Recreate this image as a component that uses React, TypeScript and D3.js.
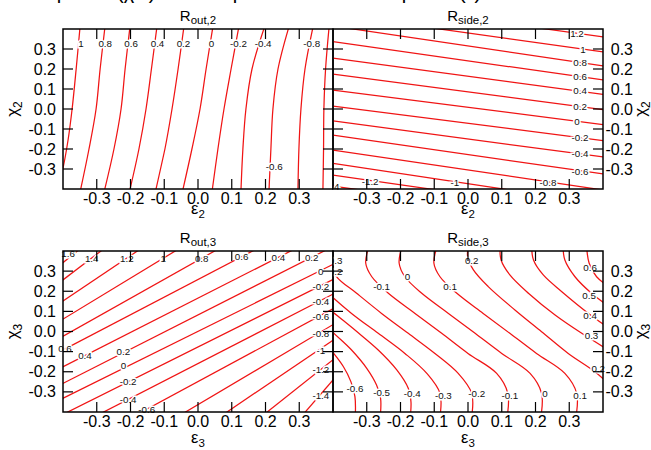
import React from "react";
import * as d3 from "d3";

type Pt = [number, number];
interface Contour { level: number; points: Pt[]; }
interface LevelLabel { level: number; at: Pt; }

const WIDTH = 651;
const HEIGHT = 450;
const RED = "#f01414";
const FONT = "'Liberation Sans', Arial, Helvetica, sans-serif";

// both axes of every panel span the same range
const AXIS_DOMAIN: [number, number] = [-0.4, 0.4];
const EPS_TICKS = [-0.3, -0.2, -0.1, 0.0, 0.1, 0.2, 0.3];
const CHI_TICKS = [-0.3, -0.2, -0.1, 0.0, 0.1, 0.2, 0.3];

// ---- R_out,2 : contour points as (epsilon, chi) ----
const rOut2Contours: Contour[] = [
  { level: 1.0, points: [[-0.349, 0.42], [-0.361, 0.2], [-0.373, 0.0], [-0.385, -0.155], [-0.4, -0.295], [-0.41, -0.36]] },
  { level: 0.8, points: [[-0.275, 0.42], [-0.29, 0.2], [-0.302, 0.0], [-0.323, -0.2], [-0.35, -0.42]] },
  { level: 0.6, points: [[-0.201, 0.42], [-0.216, 0.2], [-0.228, 0.0], [-0.249, -0.2], [-0.279, -0.42]] },
  { level: 0.4, points: [[-0.121, 0.42], [-0.138, 0.2], [-0.154, 0.0], [-0.175, -0.2], [-0.204, -0.42]] },
  { level: 0.2, points: [[-0.041, 0.42], [-0.059, 0.2], [-0.077, 0.0], [-0.098, -0.2], [-0.127, -0.42]] },
  { level: 0.0, points: [[0.045, 0.42], [0.024, 0.2], [0.006, 0.0], [-0.018, -0.2], [-0.047, -0.42]] },
  { level: -0.2, points: [[0.122, 0.42], [0.098, 0.2], [0.077, 0.0], [0.059, -0.2], [0.041, -0.42]] },
  { level: -0.4, points: [[0.199, 0.42], [0.16, 0.2], [0.142, 0.0], [0.133, -0.2], [0.127, -0.42]] },
  { level: -0.6, points: [[0.271, 0.42], [0.237, 0.2], [0.222, 0.0], [0.216, -0.2], [0.21, -0.42]] },
  { level: -0.8, points: [[0.342, 0.42], [0.317, 0.2], [0.305, 0.0], [0.299, -0.2], [0.296, -0.42]] },
  { level: -1.0, points: [[0.389, 0.42], [0.378, 0.2], [0.373, 0.0], [0.372, -0.2], [0.37, -0.42]] },
];
const rOut2Labels: LevelLabel[] = [
  { level: 1, at: [-0.347, 0.33] },
  { level: 0.8, at: [-0.275, 0.33] },
  { level: 0.6, at: [-0.198, 0.33] },
  { level: 0.4, at: [-0.12, 0.33] },
  { level: 0.2, at: [-0.043, 0.33] },
  { level: 0, at: [0.04, 0.33] },
  { level: -0.2, at: [0.12, 0.33] },
  { level: -0.4, at: [0.193, 0.33] },
  { level: -0.8, at: [0.337, 0.33] },
  { level: -0.6, at: [0.226, -0.285] },
];

// ---- R_side,2 : straight contours, chi at epsilon = -0.4 and +0.4 ----
const rSide2Contours: Contour[] = [
  { level: 1.2, points: [[-0.4, 0.55], [0.4, 0.36]] },
  { level: 1.0, points: [[-0.4, 0.475], [0.4, 0.285]] },
  { level: 0.8, points: [[-0.4, 0.415], [0.4, 0.215]] },
  { level: 0.6, points: [[-0.4, 0.337], [0.4, 0.145]] },
  { level: 0.4, points: [[-0.4, 0.254], [0.4, 0.073]] },
  { level: 0.2, points: [[-0.4, 0.175], [0.4, -0.003]] },
  { level: 0.0, points: [[-0.4, 0.095], [0.4, -0.078]] },
  { level: -0.2, points: [[-0.4, 0.015], [0.4, -0.158]] },
  { level: -0.4, points: [[-0.4, -0.059], [0.4, -0.24]] },
  { level: -0.6, points: [[-0.4, -0.13], [0.4, -0.325]] },
  { level: -0.8, points: [[-0.4, -0.205], [0.4, -0.405]] },
  { level: -1.0, points: [[-0.4, -0.272], [0.4, -0.475]] },
  { level: -1.2, points: [[-0.4, -0.33], [0.4, -0.525]] },
  { level: -1.4, points: [[-0.4, -0.385], [0.4, -0.58]] },
];
const rSide2Labels: LevelLabel[] = [
  { level: 1.2, at: [0.323, 0.38] },
  { level: 1, at: [0.341, 0.3] },
  { level: 0.8, at: [0.332, 0.235] },
  { level: 0.6, at: [0.332, 0.165] },
  { level: 0.4, at: [0.332, 0.095] },
  { level: 0.2, at: [0.332, 0.015] },
  { level: 0, at: [0.323, -0.06] },
  { level: -0.2, at: [0.332, -0.14] },
  { level: -0.4, at: [0.332, -0.22] },
  { level: -0.6, at: [0.332, -0.31] },
  { level: -1.2, at: [-0.29, -0.36] },
  { level: -1, at: [-0.039, -0.365] },
  { level: -0.8, at: [0.237, -0.365] },
  { level: -1.4, at: [-0.406, -0.385] },
];

// ---- R_out,3 ----
const rOut3Contours: Contour[] = [
  { level: 1.6, points: [[-0.409, 0.33], [-0.35, 0.41]] },
  { level: 1.4, points: [[-0.424, 0.226], [-0.264, 0.43]] },
  { level: 1.2, points: [[-0.424, 0.124], [-0.153, 0.43]] },
  { level: 1.0, points: [[-0.424, 0.037], [-0.038, 0.43]] },
  { level: 0.8, points: [[-0.424, -0.046], [0.081, 0.43]] },
  { level: 0.6, points: [[-0.424, -0.113], [0.196, 0.43]] },
  { level: 0.4, points: [[-0.424, -0.196], [0.31, 0.43]] },
  { level: 0.2, points: [[-0.424, -0.278], [0.409, 0.43]] },
  { level: 0.0, points: [[-0.424, -0.352], [0.421, 0.351]] },
  { level: -0.2, points: [[-0.424, -0.432], [0.421, 0.276]] },
  { level: -0.4, points: [[-0.305, -0.422], [0.421, 0.204]] },
  { level: -0.6, points: [[-0.187, -0.418], [0.421, 0.132]] },
  { level: -0.8, points: [[-0.053, -0.416], [0.421, 0.055]] },
  { level: -1.0, points: [[0.071, -0.417], [0.421, -0.019]] },
  { level: -1.2, points: [[0.193, -0.416], [0.421, -0.112]] },
  { level: -1.4, points: [[0.308, -0.419], [0.421, -0.2]] },
];
const rOut3Labels: LevelLabel[] = [
  { level: 1.6, at: [-0.385, 0.388] },
  { level: 1.4, at: [-0.315, 0.364] },
  { level: 1.2, at: [-0.211, 0.364] },
  { level: 1, at: [-0.103, 0.364] },
  { level: 0.8, at: [0.011, 0.364] },
  { level: 0.6, at: [0.129, 0.372] },
  { level: 0.4, at: [0.238, 0.369] },
  { level: 0.2, at: [0.337, 0.369] },
  { level: 0, at: [0.364, 0.297] },
  { level: -0.2, at: [0.364, 0.223] },
  { level: -0.4, at: [0.364, 0.148] },
  { level: -0.6, at: [0.364, 0.074] },
  { level: -0.8, at: [0.364, -0.009] },
  { level: -1, at: [0.364, -0.092] },
  { level: -1.2, at: [0.364, -0.191] },
  { level: -1.4, at: [0.364, -0.316] },
  { level: 0.6, at: [-0.394, -0.083] },
  { level: 0.4, at: [-0.335, -0.117] },
  { level: 0.2, at: [-0.221, -0.1] },
  { level: 0, at: [-0.221, -0.17] },
  { level: -0.2, at: [-0.207, -0.249] },
  { level: -0.4, at: [-0.207, -0.337] },
  { level: -0.6, at: [-0.152, -0.387] },
];

// ---- R_side,3 : S-shaped contours ----
const rSide3Contours: Contour[] = [
  { level: -0.6, points: [[-0.444, -0.017], [-0.402, -0.1], [-0.369, -0.175], [-0.347, -0.249], [-0.335, -0.324], [-0.334, -0.423]] },
  { level: -0.5, points: [[-0.444, 0.074], [-0.402, -0.001], [-0.345, -0.092], [-0.3, -0.183], [-0.271, -0.266], [-0.259, -0.332], [-0.26, -0.423]] },
  { level: -0.4, points: [[-0.453, 0.173], [-0.402, 0.099], [-0.335, 0.007], [-0.266, -0.092], [-0.211, -0.191], [-0.177, -0.282], [-0.169, -0.349], [-0.171, -0.423]] },
  { level: -0.3, points: [[-0.473, 0.289], [-0.414, 0.19], [-0.345, 0.09], [-0.266, -0.009], [-0.187, -0.109], [-0.122, -0.208], [-0.083, -0.307], [-0.083, -0.423]] },
  { level: -0.2, points: [[-0.399, 0.413], [-0.406, 0.339], [-0.389, 0.272], [-0.33, 0.19], [-0.256, 0.09], [-0.177, -0.009], [-0.098, -0.109], [-0.029, -0.208], [0.011, -0.307], [0.011, -0.423]] },
  { level: -0.1, points: [[-0.295, 0.413], [-0.303, 0.339], [-0.285, 0.272], [-0.236, 0.19], [-0.157, 0.09], [-0.078, -0.009], [0.0, -0.109], [0.085, -0.208], [0.118, -0.307], [0.116, -0.423]] },
  { level: 0.0, points: [[-0.197, 0.413], [-0.204, 0.339], [-0.187, 0.272], [-0.137, 0.19], [-0.058, 0.09], [0.021, -0.009], [0.1, -0.109], [0.184, -0.208], [0.218, -0.307], [0.216, -0.423]] },
  { level: 0.1, points: [[-0.093, 0.413], [-0.101, 0.339], [-0.083, 0.272], [-0.033, 0.19], [0.045, 0.09], [0.124, -0.009], [0.203, -0.109], [0.287, -0.208], [0.322, -0.307], [0.32, -0.423]] },
  { level: 0.2, points: [[0.0, 0.413], [-0.001, 0.372], [0.016, 0.306], [0.06, 0.223], [0.139, 0.107], [0.218, -0.001], [0.297, -0.109], [0.376, -0.2], [0.426, -0.274]] },
  { level: 0.3, points: [[0.095, 0.413], [0.098, 0.355], [0.124, 0.281], [0.179, 0.19], [0.258, 0.082], [0.337, -0.009], [0.416, -0.092]] },
  { level: 0.4, points: [[0.189, 0.413], [0.194, 0.355], [0.223, 0.281], [0.278, 0.198], [0.357, 0.09], [0.426, 0.007]] },
  { level: 0.5, points: [[0.282, 0.413], [0.287, 0.355], [0.317, 0.272], [0.366, 0.19], [0.426, 0.115]] },
  { level: 0.6, points: [[0.352, 0.413], [0.359, 0.339], [0.381, 0.272], [0.426, 0.214]] },
];
const rSide3Labels: LevelLabel[] = [
  { level: -0.3, at: [-0.397, 0.355] },
  { level: -0.2, at: [-0.397, 0.3] },
  { level: -0.1, at: [-0.256, 0.223] },
  { level: 0, at: [-0.179, 0.272] },
  { level: 0.1, at: [-0.053, 0.223] },
  { level: 0.2, at: [0.011, 0.352] },
  { level: 0.6, at: [0.362, 0.317] },
  { level: 0.5, at: [0.359, 0.181] },
  { level: 0.4, at: [0.362, 0.082] },
  { level: 0.3, at: [0.366, -0.022] },
  { level: 0.2, at: [0.386, -0.183] },
  { level: -0.6, at: [-0.335, -0.282] },
  { level: -0.5, at: [-0.256, -0.302] },
  { level: -0.4, at: [-0.165, -0.307] },
  { level: -0.3, at: [-0.073, -0.316] },
  { level: -0.2, at: [0.026, -0.307] },
  { level: -0.1, at: [0.124, -0.316] },
  { level: 0, at: [0.228, -0.307] },
  { level: 0.1, at: [0.332, -0.316] },
];

const fmtTick = (v: number) => v.toFixed(1);
const fmtLevel = (v: number) => String(v);

interface PanelProps {
  id: string;
  left: number;
  top: number;
  width: number;
  height: number;
  contours: Contour[];
  labels: LevelLabel[];
  titleSub: string;
  axisSub: string;
  side: "left" | "right";
  xLabelY: number;
}

function Panel(p: PanelProps) {
  const { left, top, width, height } = p;
  const right = left + width;
  const bottom = top + height;
  const x = d3.scaleLinear().domain(AXIS_DOMAIN).range([left, right]);
  const y = d3.scaleLinear().domain(AXIS_DOMAIN).range([bottom, top]);
  const line = d3
    .line<Pt>()
    .x((d) => x(d[0]))
    .y((d) => y(d[1]))
    .curve(d3.curveCatmullRom.alpha(0.5));
  const tickLen = 10;
  const cx = (left + right) / 2;
  const cy = (top + bottom) / 2;
  // labels may spill past the outer frame edges but not across the shared edge
  const lblLeft = p.side === "left" ? left - 20 : left;
  const lblRight = p.side === "left" ? right : right + 20;

  return (
    <g>
      <defs>
        <clipPath id={`${p.id}-plot`}>
          <rect x={left} y={top} width={width} height={height} />
        </clipPath>
        <clipPath id={`${p.id}-lbl`}>
          <rect x={lblLeft} y={top - 8} width={lblRight - lblLeft} height={height + 16} />
        </clipPath>
      </defs>
      <g clipPath={`url(#${p.id}-plot)`}>
        {p.contours.map((c, i) => (
          <path key={i} d={line(c.points) ?? ""} fill="none" stroke={RED} strokeWidth={1.25} />
        ))}
      </g>
      <g clipPath={`url(#${p.id}-lbl)`}>
        {p.labels.map((l, i) => (
          <text
            key={i}
            x={x(l.at[0])}
            y={y(l.at[1])}
            dy="0.36em"
            textAnchor="middle"
            fontSize={9.8}
            fill="#111"
            stroke="#fff"
            strokeWidth={3}
            paintOrder="stroke"
          >
            {fmtLevel(l.level)}
          </text>
        ))}
      </g>
      <g stroke="#000" strokeWidth={1.2}>
        {EPS_TICKS.map((t) => (
          <g key={`e${t}`}>
            <line x1={x(t)} x2={x(t)} y1={bottom} y2={bottom - tickLen} />
            <line x1={x(t)} x2={x(t)} y1={top} y2={top + tickLen} />
          </g>
        ))}
        {CHI_TICKS.map((t) => (
          <g key={`c${t}`}>
            <line x1={left} x2={left + tickLen} y1={y(t)} y2={y(t)} />
            <line x1={right} x2={right - tickLen} y1={y(t)} y2={y(t)} />
          </g>
        ))}
      </g>
      <rect x={left} y={top} width={width} height={height} fill="none" stroke="#000" strokeWidth={1.5} />
      <g fontSize={16} fill="#000">
        {EPS_TICKS.map((t) => (
          <text key={`el${t}`} x={x(t)} y={bottom + 15} textAnchor="middle">
            {fmtTick(t)}
          </text>
        ))}
        {CHI_TICKS.map((t) => (
          <text
            key={`cl${t}`}
            x={p.side === "left" ? left - 7 : right + 30}
            y={y(t) + 5.6}
            textAnchor="end"
          >
            {fmtTick(t)}
          </text>
        ))}
      </g>
      <text x={cx} y={top - 8} textAnchor="middle" fontSize={15}>
        R<tspan fontSize={11.5} dy={3}>{p.titleSub}</tspan>
      </text>
      <text x={cx} y={p.xLabelY} textAnchor="middle" fontSize={16.5}>
        ε<tspan fontSize={11.5} dy={4}>{p.axisSub}</tspan>
      </text>
      <text
        transform={`translate(${p.side === "left" ? left - 45 : right + 43},${cy}) rotate(-90)`}
        textAnchor="middle"
        fontSize={17}
      >
        χ<tspan fontSize={12} dy={4}>{p.axisSub}</tspan>
      </text>
    </g>
  );
}

export default function App() {
  return (
    <svg
      width={WIDTH}
      height={HEIGHT}
      viewBox={`0 0 ${WIDTH} ${HEIGHT}`}
      style={{ position: "absolute", left: 0, top: 0 }}
      fontFamily={FONT}
    >
      <rect width={WIDTH} height={HEIGHT} fill="#fff" />
      {/* heading line sitting above the top edge of the figure */}
      <text y={-1} fontSize={20} fill="#000">
        <tspan x={40}>top</tspan>
        <tspan x={117}>(χ/ε)</tspan>
        <tspan x={205}>map</tspan>
        <tspan x={385}>top</tspan>
        <tspan x={459}>(ε)</tspan>
      </text>
      <Panel id="p1" left={63} top={29} width={270} height={160} contours={rOut2Contours} labels={rOut2Labels}
        titleSub="out,2" axisSub="2" side="left" xLabelY={214} />
      <Panel id="p2" left={333} top={29} width={270} height={160} contours={rSide2Contours} labels={rSide2Labels}
        titleSub="side,2" axisSub="2" side="right" xLabelY={214} />
      <Panel id="p3" left={63} top={251} width={270} height={161} contours={rOut3Contours} labels={rOut3Labels}
        titleSub="out,3" axisSub="3" side="left" xLabelY={443} />
      <Panel id="p4" left={333} top={251} width={270} height={161} contours={rSide3Contours} labels={rSide3Labels}
        titleSub="side,3" axisSub="3" side="right" xLabelY={443} />
    </svg>
  );
}
